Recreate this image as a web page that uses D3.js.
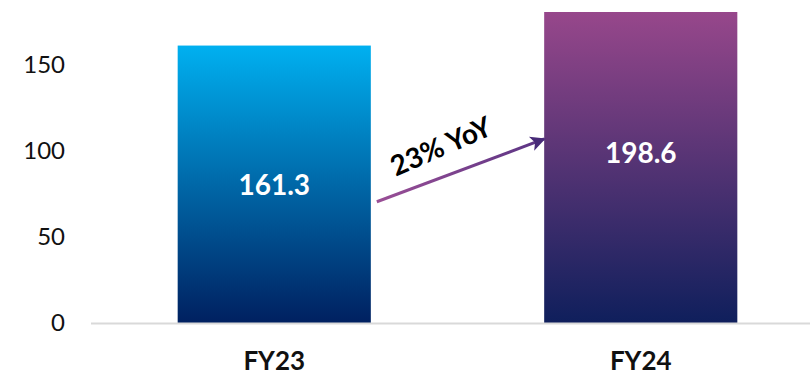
<!DOCTYPE html>
<html>
<head>
<meta charset="utf-8">
<script src="https://cdn.jsdelivr.net/npm/d3@7"></script>
<style>
  body { margin: 0; background: #fff; }
  svg { display: block; font-family: Lato, "Noto Sans", sans-serif; }
</style>
</head>
<body>
<div id="chart"></div>
<script>
// dados do gráfico
var categories = ["FY23", "FY24"];
var values = [161.3, 198.6];
var valueLabels = ["161.3", "198.6"];
var yTicks = [0, 50, 100, 150];
var growthLabel = "23% YoY";

// cores dos gradientes (topo -> base)
var barColors = [
    ["#00b0f0", "#002060"],
    ["#97478b", "#0f1f5c"]
];

var width = 810, height = 377;
var plotTop = 12, baseline = 323;

var svg = d3.select("#chart").append("svg")
    .attr("width", width)
    .attr("height", height);

var x = d3.scaleBand()
    .domain(categories)
    .range([91, 824])
    .paddingInner(0.473)
    .paddingOuter(0.2365);

var y = d3.scaleLinear()
    .domain([0, 200])
    .range([baseline, baseline - 344]);

var defs = svg.append("defs");

// clip no topo da área do gráfico (a barra FY24 é cortada)
defs.append("clipPath").attr("id", "plotClip")
    .append("rect")
    .attr("x", 0).attr("y", plotTop)
    .attr("width", width).attr("height", baseline - plotTop);

barColors.forEach(function (c, i) {
    var g = defs.append("linearGradient")
        .attr("id", "grad" + i)
        .attr("x1", "0%").attr("x2", "0%")
        .attr("y1", "0%").attr("y2", "100%");
    g.append("stop").attr("offset", "0%").attr("stop-color", c[0]);
    g.append("stop").attr("offset", "100%").attr("stop-color", c[1]);
});

var arrowGrad = defs.append("linearGradient")
    .attr("id", "arrowGrad")
    .attr("gradientUnits", "userSpaceOnUse");
arrowGrad.append("stop").attr("offset", "0%").attr("stop-color", "#9a4f96");
arrowGrad.append("stop").attr("offset", "100%").attr("stop-color", "#5a3484");

defs.append("marker")
    .attr("id", "arrowHead")
    .attr("viewBox", "0 0 10 10")
    .attr("refX", 9).attr("refY", 5)
    .attr("markerWidth", 6).attr("markerHeight", 5)
    .attr("markerUnits", "strokeWidth")
    .attr("orient", "auto")
    .append("path")
    .attr("d", "M0,0 L10,5 L0,10 L2.5,5 Z")
    .attr("fill", "#472a78");

// eixo Y (só os rótulos)
var yAxis = svg.append("g")
    .attr("transform", "translate(75,0)")
    .call(d3.axisLeft(y).tickValues(yTicks).tickSize(0).tickPadding(10));
yAxis.select(".domain").remove();
yAxis.selectAll("text")
    .attr("font-size", 24)
    .attr("font-family", "Lato, 'Noto Sans', sans-serif")
    .attr("fill", "#111");

// barras
var bars = svg.append("g").attr("clip-path", "url(#plotClip)");
bars.selectAll("rect")
    .data(values)
    .join("rect")
    .attr("x", (d, i) => x(categories[i]))
    .attr("width", x.bandwidth())
    .attr("y", d => Math.max(y(d), plotTop))
    .attr("height", d => baseline - Math.max(y(d), plotTop))
    .attr("fill", (d, i) => "url(#grad" + i + ")");

// linha de base
svg.append("line")
    .attr("x1", 91).attr("x2", width)
    .attr("y1", baseline + 0.5).attr("y2", baseline + 0.5)
    .attr("stroke", "#d9d9d9")
    .attr("stroke-width", 2);

// rótulos de valor no centro da barra
svg.selectAll("text.value")
    .data(values)
    .join("text")
    .attr("class", "value")
    .attr("x", (d, i) => x(categories[i]) + x.bandwidth() / 2)
    .attr("y", d => (y(d) + baseline) / 2)
    .attr("text-anchor", "middle")
    .attr("dominant-baseline", "central")
    .attr("font-size", 28)
    .attr("font-weight", "bold")
    .attr("fill", "#fff")
    .text((d, i) => valueLabels[i]);

// rótulos das categorias
svg.selectAll("text.cat")
    .data(categories)
    .join("text")
    .attr("class", "cat")
    .attr("x", d => x(d) + x.bandwidth() / 2)
    .attr("y", 370)
    .attr("text-anchor", "middle")
    .attr("font-size", 26)
    .attr("font-weight", "bold")
    .attr("fill", "#111")
    .text(d => d);

// seta de crescimento entre as barras
var x0 = x(categories[0]) + x.bandwidth() + 6;
var x1 = x(categories[1]);
var y0 = y(70.5), y1 = y(107);
arrowGrad.attr("x1", x0).attr("y1", y0).attr("x2", x1).attr("y2", y1);
svg.append("line")
    .attr("x1", x0).attr("y1", y0)
    .attr("x2", x1).attr("y2", y1)
    .attr("stroke", "url(#arrowGrad)")
    .attr("stroke-width", 3)
    .attr("marker-end", "url(#arrowHead)");

var angle = Math.atan2(y1 - y0, x1 - x0) * 180 / Math.PI;
svg.append("text")
    .attr("transform", "translate(" + ((x0 + x1) / 2 - 20) + "," + ((y0 + y1) / 2 - 25) + ") rotate(" + (angle - 3) + ")")
    .attr("text-anchor", "middle")
    .attr("dominant-baseline", "central")
    .attr("font-size", 28)
    .attr("font-weight", "bold")
    .attr("fill", "#000")
    .text(growthLabel);
</script>
</body>
</html>
